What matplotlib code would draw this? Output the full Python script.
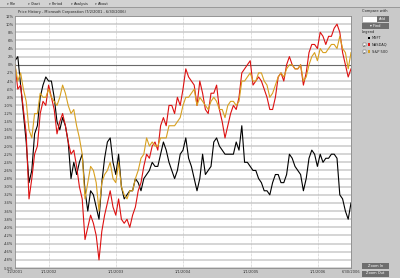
import numpy as np
import pandas as pd
import matplotlib
matplotlib.use('Agg')
import matplotlib.pyplot as plt
from matplotlib.patches import Rectangle

W, H = 400, 278

# half-monthly samples, 7/2/2001 .. 6/30/2006, % change since start
dates = pd.date_range('2001-07-02', '2006-06-30', periods=121)

msft = [1, 2, -5, -12, -19, -29, -26, -17, -15, -8,
        -5, -3, -4, -4, -8, -14, -16, -13, -15, -19,
        -28, -24, -27, -24, -22, -31, -36, -31, -32, -35,
        -38, -29, -23, -19, -18, -24, -27, -22, -30, -33,
        -32, -31, -31, -28, -29, -31, -28, -27, -26, -24,
        -25, -25, -22, -19, -21, -24, -26, -28, -26, -22,
        -21, -18, -23, -25, -28, -31, -28, -22, -27, -26,
        -25, -19, -18, -20, -21, -22, -22, -22, -22, -19,
        -21, -15, -24, -24, -25, -26, -26, -28, -29, -31,
        -31, -32, -29, -27, -27, -29, -29, -27, -22, -23,
        -25, -26, -27, -31, -28, -23, -21, -22, -25, -22,
        -24, -23, -23, -22, -22, -23, -32, -33, -36, -38,
        -34]

nasdaq = [0, -6, -5, -11, -17, -33, -28, -22, -20, -12,
          -9, -10, -5, -8, -11, -17, -14, -12, -15, -19,
          -22, -21, -25, -30, -33, -43, -40, -37, -39, -42,
          -48, -41, -37, -34, -31, -35, -37, -33, -38, -39,
          -38, -40, -37, -35, -31, -29, -25, -22, -23, -20,
          -19, -21, -15, -13, -15, -10, -10, -12, -8, -10,
          -6, -1, -3, -4, -5, -10, -4, -7, -11, -12,
          -7, -7, -5, -11, -14, -18, -15, -12, -10, -11,
          -8, -2, -1, 0, 1, -5, -4, -3, -4, -6,
          -8, -11, -11, -8, -3, -2, -4, 0, 2, 0,
          -1, -1, 0, -5, -2, 3, 5, 5, 4, 8,
          7, 5, 7, 7, 9, 10, 8, 3, 0, -3,
          -1]

sp500 = [0, -4, -2, -6, -9, -16, -18, -12, -12, -7,
         -8, -8, -6, -8, -9, -10, -8, -5, -7, -10,
         -12, -11, -15, -18, -22, -33, -29, -25, -26, -29,
         -36, -29, -27, -26, -24, -28, -29, -24, -30, -32,
         -33, -31, -31, -28, -26, -23, -22, -18, -20, -19,
         -20, -20, -18, -18, -18, -15, -15, -15, -14, -13,
         -10, -8, -8, -7, -6, -10, -8, -9, -10, -11,
         -9, -8, -9, -11, -11, -13, -10, -9, -9, -10,
         -9, -4, -4, -3, -2, -4, -4, -2, -2, -4,
         -5, -8, -7, -5, -3, -2, -3, -1, 0, 0,
         -1, -1, 0, -4, -3, 0, 2, 3, 1, 4,
         3, 3, 4, 5, 5, 4, 7, 4, 3, -1,
         3]

y_ticks = list(range(12, -51, -2))
x_tick_dates = ['2001-07-02', '2002-01-01', '2003-01-01', '2004-01-01',
                '2005-01-01', '2006-01-01', '2006-06-30']
x_tick_labels = ['7/2/2001', '1/1/2002', '1/1/2003', '1/1/2004',
                 '1/1/2005', '1/1/2006', '6/30/2006']
menu_items = ['File', 'Chart', 'Period', 'Analysis', 'About']
menu_x = [8, 29, 50, 72, 96]
legend_names = ['MSFT', 'NASDAQ', 'S&P 500']
legend_colors = ['#000000', '#dd1111', '#d8a020']

BG = '#c9c9c9'
BTN = '#6e6e6e'
FONT = 'DejaVu Sans'
FS = 2.6

fig = plt.figure(figsize=(W / 100, H / 100), dpi=100, facecolor=BG)


def ftxt(x, y, s, **kw):
    kw.setdefault('fontsize', FS)
    kw.setdefault('family', FONT)
    kw.setdefault('va', 'center')
    fig.text(x / W, 1 - y / H, s, **kw)


def box(x0, y0, x1, y1, fc, ec='none', lw=0.4):
    fig.add_artist(Rectangle((x0 / W, 1 - y1 / H), (x1 - x0) / W, (y1 - y0) / H,
                             transform=fig.transFigure, facecolor=fc,
                             edgecolor=ec, linewidth=lw))


# menu bar
box(0, 0, 400, 7.5, '#d2d2d2')
box(0, 7.5, 400, 8.2, '#9a9a9a')
for mx, name in zip(menu_x, menu_items):
    ftxt(mx, 3.8, '\u25be', fontsize=2.4, color='#333333', ha='center')
    ftxt(mx + 2, 3.8, name, color='#222222', ha='left')

ftxt(18, 12.3, 'Price History - Microsoft Corporation (7/2/2001 - 6/30/2006)',
     color='#222222', ha='left')

# main chart
ax = fig.add_axes([15 / W, 1 - 268 / H, 336 / W, 252 / H])
ax.set_facecolor('white')
ax.plot(dates, msft, color=legend_colors[0], lw=0.8)
ax.plot(dates, nasdaq, color=legend_colors[1], lw=0.8)
ax.plot(dates, sp500, color=legend_colors[2], lw=0.8)

for t in y_ticks:
    if t == 0:
        ax.axhline(t, color='#6a6a6a', lw=0.8, zorder=0.6)
    else:
        ax.axhline(t, color='#d2d2d2', lw=1.3, zorder=0.5)
for d in x_tick_dates[1:-1]:
    ax.axvline(pd.Timestamp(d), color='#bdbdbd', lw=0.5, ls=(0, (1, 1)), zorder=0.5)

ax.set_xlim(dates[0], dates[-1])
ax.set_ylim(-50, 12)
ax.set_yticks(y_ticks)
ax.set_yticklabels(['%d%%' % t for t in y_ticks], fontsize=FS, family=FONT, color='#333333')
ax.set_xticks([pd.Timestamp(d) for d in x_tick_dates])
ax.set_xticklabels(x_tick_labels, fontsize=FS, family=FONT, color='#333333')
ax.tick_params(length=0, pad=1.2)
for s in ax.spines.values():
    s.set_color('#8a8a8a')
    s.set_linewidth(0.6)

# right panel
ftxt(362, 11, 'Compare with', color='#222222', ha='left')
box(362, 15.5, 377, 21.5, 'white', '#888888')
box(377, 15.5, 389, 21.5, BTN)
ftxt(383, 18.5, 'Add', color='white', ha='center')
box(362, 23, 389, 28.5, BTN)
ftxt(375.5, 25.8, '\u25be Find', color='white', ha='center')
ftxt(362, 32, 'Legend', color='#222222', ha='left')
rows_y = [38, 45, 52]
for i, (name, col, yy) in enumerate(zip(legend_names, legend_colors, rows_y)):
    if i > 0:
        box(362.5, yy - 1.7, 365.5, yy + 1.3, 'white', '#555555', 0.3)
        ftxt(364, yy - 0.3, '\u2713', fontsize=2.4, color='#111111', ha='center')
    box(367.5, yy - 1.5, 370, yy + 1, col)
    ftxt(372, yy, name, color='#222222', ha='left')

box(362, 263, 389, 269, BTN)
ftxt(375.5, 266, 'Zoom In', color='white', ha='center')
box(362, 270.5, 389, 276.5, BTN)
ftxt(375.5, 273.5, 'Zoom Out', color='white', ha='center')

fig.savefig('out.png', dpi=100, facecolor=BG)
